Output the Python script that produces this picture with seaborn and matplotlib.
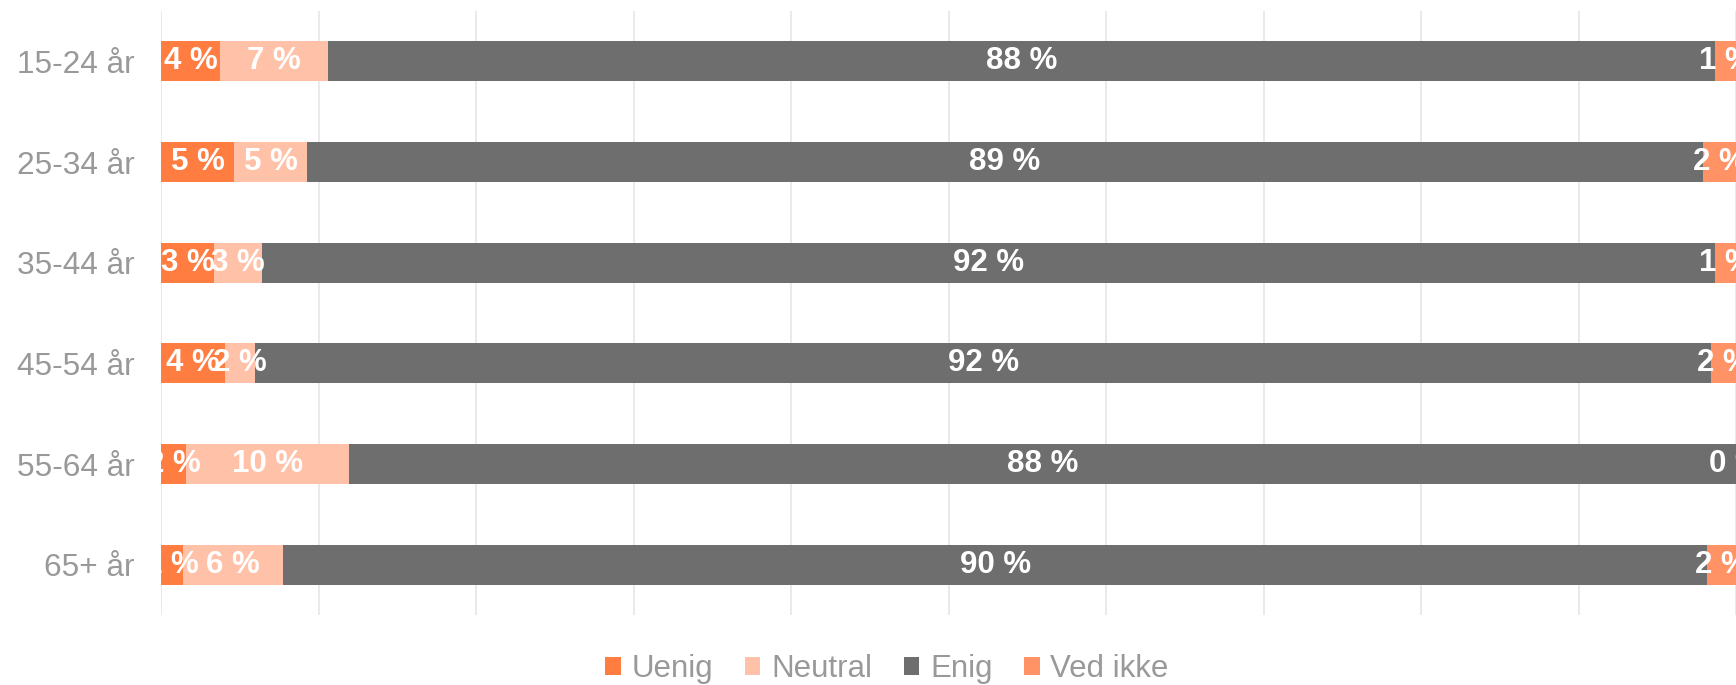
import numpy as np
import pandas as pd
import matplotlib.pyplot as plt
from matplotlib.patches import Patch
import seaborn as sns

sns.set_theme(style="whitegrid")
plt.rcParams["font.family"] = ["Liberation Sans", "DejaVu Sans"]

GREY_TEXT = "#999999"
GRID = "#e6e6e6"

categories = ["15-24 år", "25-34 år", "35-44 år", "45-54 år", "55-64 år", "65+ år"]
series = ["Uenig", "Neutral", "Enig", "Ved ikke"]
colors = ["#FF7D41", "#FFC2A9", "#6E6E6E", "#FF9366"]

uenig = [3.75, 4.63, 3.37, 4.08, 1.59, 1.40]
neutral = [6.85, 4.66, 3.06, 1.89, 10.33, 6.37]
enig = [88.07, 88.60, 92.24, 92.45, 88.08, 90.40]
ved_ikke = [1.33, 2.11, 1.33, 1.58, 0.00, 1.83]

values = np.array([uenig, neutral, enig, ved_ikke])
cum = np.cumsum(values, axis=0)

fig = plt.figure(figsize=(17.36, 6.85), dpi=100)
ax = fig.add_axes([161 / 1736, 1 - 615 / 685, 1 - 161 / 1736, (615 - 11) / 685])

# stacked bars: draw cumulative totals from the widest to the narrowest
for i in range(len(series) - 1, -1, -1):
    df = pd.DataFrame({"age": categories, "total": cum[i]})
    sns.barplot(data=df, x="total", y="age", orient="h", color=colors[i],
                width=0.4, linewidth=0, saturation=1, ax=ax)

# data labels, centred in each segment and clipped to the plot area
for i in range(len(series)):
    left = cum[i] - values[i]
    for j in range(len(categories)):
        ax.text(left[j] + values[i][j] / 2, j, f"{round(values[i][j]):.0f} %",
                ha="center", va="center", color="white", fontsize=22.5,
                fontweight="bold", clip_on=True)

ax.set_xlim(0, 100)
ax.set_ylim(5.5, -0.5)
ax.set_xticks(range(0, 101, 10))
ax.set_xticklabels([])
ax.set_xlabel("")
ax.set_ylabel("")
ax.grid(axis="x", color=GRID, linewidth=1.2)
ax.grid(axis="y", visible=False)
ax.set_axisbelow(True)
for s in ax.spines.values():
    s.set_visible(False)
ax.tick_params(axis="y", length=0, pad=19, labelsize=22.8, labelcolor=GREY_TEXT)
ax.tick_params(axis="x", length=0)

handles = [Patch(facecolor=c, edgecolor="none", label=s) for s, c in zip(series, colors)]
fig.legend(handles=handles, loc="center", bbox_to_anchor=(0.511, 0.023), ncol=4,
           frameon=False, fontsize=22.5, labelcolor=GREY_TEXT,
           handlelength=0.5, handleheight=0.5, handletextpad=0.35,
           columnspacing=1.0, borderaxespad=0)

fig.savefig("out.png", dpi=100)
